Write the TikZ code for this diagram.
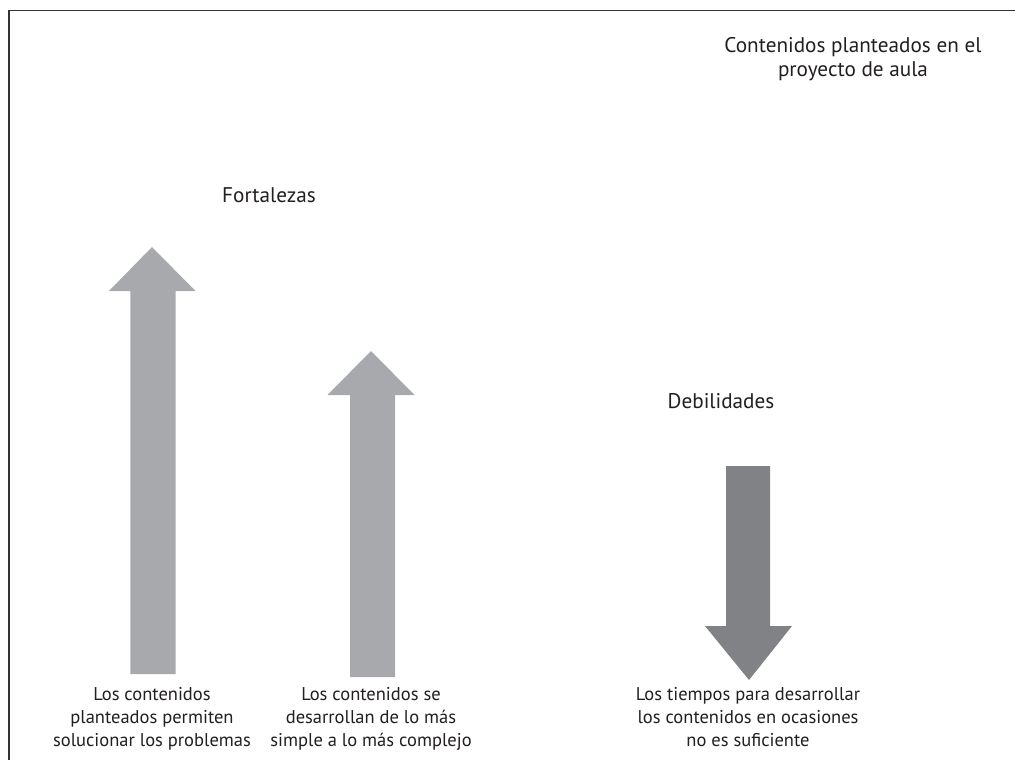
\documentclass[tikz,border=0pt]{standalone}
\usepackage{fontspec}
\setmainfont{PT Sans}
\definecolor{lightarrow}{HTML}{A7A9AC}
\definecolor{darkarrow}{HTML}{808285}
\definecolor{txt}{HTML}{231F20}
\begin{document}
\begin{tikzpicture}[x=1pt,y=-1pt,
  lbl/.style={font=\fontsize{18.5}{22.7}\selectfont, text=txt, inner sep=0pt, align=center},
  head/.style={font=\fontsize{21.2}{24}\selectfont, text=txt, inner sep=0pt, align=center},
  frame/.style={draw=black!80, line width=1.6pt},
  uparrow/.style={fill=lightarrow, draw=none},
  downarrow/.style={fill=darkarrow, draw=none}]
\useasboundingbox (0,0) rectangle (1015,760);
\fill[white] (0,0) rectangle (1015,760);
% frame (left and top edges visible)
\draw[frame] (8.8,760) -- (8.8,10.7) -- (1015,10.7);
% arrow 1
\fill[uparrow] (130.3,674) -- (130.3,291) -- (109,291) -- (152,247) -- (195.5,291) -- (175.7,291) -- (175.7,674) -- cycle;
% arrow 2
\fill[uparrow] (350,677) -- (350,395) -- (327.5,395) -- (371,351) -- (414.5,395) -- (395,395) -- (395,677) -- cycle;
% arrow 3
\fill[downarrow] (726,466) -- (770,466) -- (770,626) -- (792,626) -- (749,680) -- (705,626) -- (726,626) -- cycle;
% labels
\node[head, anchor=base] (title) at (853,77) {Contenidos planteados en el\\proyecto de aula};
\node[head, anchor=base] (fort) at (269,202) {Fortalezas};
\node[head, anchor=base] (debil) at (721,408) {Debilidades};
\node[lbl, anchor=base] (t1) at (152,746) {Los contenidos\\planteados permiten\\solucionar los problemas};
\node[lbl, anchor=base] (t2) at (371,746) {Los contenidos se\\desarrollan de lo más\\simple a lo más complejo};
\node[lbl, anchor=base] (t3) at (748,746) {Los tiempos para desarrollar\\los contenidos en ocasiones\\no es suficiente};
\end{tikzpicture}
\end{document}
